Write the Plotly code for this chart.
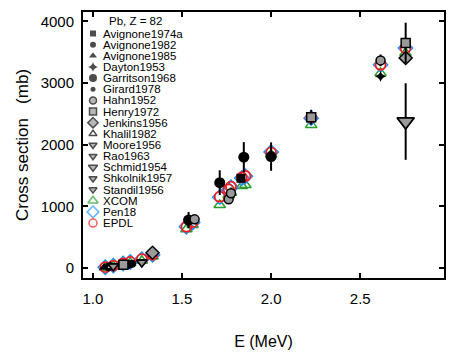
import plotly.graph_objects as go

# ---------------- data ----------------
E_theory = [1.07, 1.115, 1.17, 1.21, 1.275, 1.335, 1.525, 1.56, 1.712, 1.762,
            1.775, 1.836, 1.856, 2.0, 2.225, 2.614, 2.754]
xcom = [5, 30, 60, 85, 120, 190, 630, 700, 1023, 1180,
        1220, 1330, 1347, 1840, 2321, 3160, 3485]
pen18 = [15, 40, 75, 100, 145, 215, 670, 740, 1150, 1270,
         1310, 1460, 1490, 1880, 2430, 3295, 3566]
epdl = [15, 40, 75, 100, 145, 215, 670, 745, 1157, 1277,
        1320, 1470, 1493, 1872, 2440, 3295, 3566]

avignone1974a_E = [1.17, 1.831]
avignone1974a_s = [45, 1456]
avignone1982_E = [1.09, 1.2]
avignone1982_s = [20, 60]
avignone1985_E = [1.063]
avignone1985_s = [10]
dayton1953_E = [2.614]
dayton1953_s = [3106]
garritson1968_E = [1.537, 1.712, 1.847, 2.0]
garritson1968_s = [779, 1385, 1797, 1807]
garritson1968_err = [130, 200, 245, 230]
girard1978_E = [1.22, 1.33]
girard1978_s = [70, 230]
hahn1952_E = [1.571, 1.762, 1.775, 2.614]
hahn1952_s = [790, 1115, 1212, 3366]
hahn1952_err = [60, 60, 60, 95]
henry1972_E = [1.172, 2.225, 2.755]
henry1972_s = [55, 2446, 3647]
henry1972_err = [20, 120, 330]
jenkins1956_E = [1.335, 2.755]
jenkins1956_s = [250, 3404]
khalil1982_E = [1.1]
khalil1982_s = [25]
moore1956_E = [1.115]
moore1956_s = [35]
rao1963_E = [1.275]
rao1963_s = [100]
schmid1954_E = [2.755]
schmid1954_s = [2375]
schmid1954_err = [620]
shkolnik1957_E = [1.115]
shkolnik1957_s = [30]
standil1956_E = [1.275]
standil1956_s = [90]

x_ticks = [1.0, 1.5, 2.0, 2.5]
x_ticklabels = ["1.0", "1.5", "2.0", "2.5"]
y_ticks = [0, 1000, 2000, 3000, 4000]
y_ticklabels = ["0", "1000", "2000", "3000", "4000"]

legend_title = "Pb, Z = 82"
legend_names = ["Avignone1974a", "Avignone1982", "Avignone1985", "Dayton1953",
                "Garritson1968", "Girard1978", "Hahn1952", "Henry1972",
                "Jenkins1956", "Khalil1982", "Moore1956", "Rao1963",
                "Schmid1954", "Shkolnik1957", "Standil1956", "XCOM", "Pen18", "EPDL"]

# ---------------- styles ----------------
FONT = "Liberation Sans, Arial, Helvetica, sans-serif"
GRAY = "#9a9a9a"
GREEN = "#2a9d2a"
BLUE = "#1e90ff"
RED = "#ff1a1a"

# (symbol, size, fill, line colour, line width)
styles = {
    "Avignone1974a": ("square", 9, "black", "black", 0),
    "Avignone1982": ("circle", 9, "black", "black", 0),
    "Avignone1985": ("triangle-up", 9, "black", "black", 0),
    "Dayton1953": ("star-diamond", 8, "black", "black", 0),
    "Garritson1968": ("circle", 11, "black", "black", 0),
    "Girard1978": ("circle", 8, "black", "black", 0),
    "Hahn1952": ("circle", 9, GRAY, "black", 1.5),
    "Henry1972": ("square", 9, GRAY, "black", 1.5),
    "Jenkins1956": ("diamond", 10, GRAY, "black", 1.5),
    "Khalil1982": ("triangle-up", 8, "white", "black", 1.5),
    "Moore1956": ("triangle-down", 9, GRAY, "black", 1.5),
    "Rao1963": ("triangle-down", 9, GRAY, "black", 1.5),
    "Schmid1954": ("triangle-down", 15, GRAY, "black", 1.8),
    "Shkolnik1957": ("triangle-down", 9, GRAY, "black", 1.5),
    "Standil1956": ("triangle-down", 9, GRAY, "black", 1.5),
    "XCOM": ("triangle-up-open", 10, GREEN, GREEN, 1.5),
    "Pen18": ("diamond-open", 11, BLUE, BLUE, 1.5),
    "EPDL": ("circle-open", 10, RED, RED, 1.8),
}

fig = go.Figure()


def add(name, E, s, err=None):
    sym, size, fill, lc, lw = styles[name]
    kw = {}
    if err is not None:
        kw["error_y"] = dict(type="data", array=err, visible=True,
                             color="black", thickness=2, width=0)
    fig.add_trace(go.Scatter(
        x=E, y=s, mode="markers", name=name, showlegend=False,
        marker=dict(symbol=sym, size=size, color=fill,
                    line=dict(color=lc, width=lw)),
        **kw))


# theory under experiments
add("XCOM", E_theory, xcom)
add("Pen18", E_theory, pen18)
add("EPDL", E_theory, epdl)

add("Avignone1974a", avignone1974a_E, avignone1974a_s)
add("Avignone1982", avignone1982_E, avignone1982_s)
add("Avignone1985", avignone1985_E, avignone1985_s)
add("Girard1978", girard1978_E, girard1978_s)
add("Khalil1982", khalil1982_E, khalil1982_s)
add("Moore1956", moore1956_E, moore1956_s)
add("Rao1963", rao1963_E, rao1963_s)
add("Shkolnik1957", shkolnik1957_E, shkolnik1957_s)
add("Standil1956", standil1956_E, standil1956_s)
add("Garritson1968", garritson1968_E, garritson1968_s, garritson1968_err)
add("Schmid1954", schmid1954_E, schmid1954_s, schmid1954_err)
add("Jenkins1956", jenkins1956_E, jenkins1956_s)
add("Dayton1953", dayton1953_E, dayton1953_s)
add("Hahn1952", hahn1952_E, hahn1952_s, hahn1952_err)
add("Henry1972", henry1972_E, henry1972_s, henry1972_err)

# ---------------- hand-made compact legend ----------------
W, H = 463, 355
ML, MR, MT, MB = 83, 19, 12, 77
PW, PH = W - ML - MR, H - MT - MB


def fx(px):
    return (px - ML) / PW


def fy(py):
    return (H - MB - py) / PH


row0, drow = 33.5, 11.15
leg_y = [fy(row0 + i * drow) for i in range(len(legend_names))]
legend_sizes = {"Garritson1968": 8, "Schmid1954": 8, "Pen18": 9, "EPDL": 8,
                "XCOM": 9, "Jenkins1956": 8, "Hahn1952": 7, "Henry1972": 7,
                "Avignone1974a": 6, "Avignone1982": 6, "Avignone1985": 7,
                "Girard1978": 5, "Dayton1953": 7}
fig.add_trace(go.Scatter(
    x=[fx(93)] * len(legend_names), y=leg_y, mode="markers",
    xaxis="x2", yaxis="y2", showlegend=False, hoverinfo="skip",
    marker=dict(
        symbol=[styles[n][0] for n in legend_names],
        size=[legend_sizes.get(n, min(styles[n][1], 7)) for n in legend_names],
        color=[styles[n][2] for n in legend_names],
        line=dict(color=[styles[n][3] for n in legend_names],
                  width=[min(styles[n][4], 1.5) for n in legend_names]),
    )))

LEG_FS = 11.5
annotations = [dict(text=legend_title, x=fx(107), y=fy(21), xref="paper", yref="paper",
                    xanchor="left", yanchor="middle", showarrow=False,
                    font=dict(family=FONT, size=LEG_FS, color="black"))]
for n, yy in zip(legend_names, leg_y):
    annotations.append(dict(text=n, x=fx(101), y=yy, xref="paper", yref="paper",
                            xanchor="left", yanchor="middle", showarrow=False,
                            font=dict(family=FONT, size=LEG_FS, color="black")))

axis_common = dict(showline=True, linecolor="black", linewidth=2, mirror="ticks",
                   ticks="inside", ticklen=5, tickwidth=1.5, tickcolor="black",
                   showgrid=False, zeroline=False,
                   tickfont=dict(family=FONT, size=15, color="black"))

fig.update_layout(
    width=W, height=H,
    margin=dict(l=ML, r=MR, t=MT, b=MB, autoexpand=False),
    paper_bgcolor="white", plot_bgcolor="white",
    font=dict(family=FONT, color="black"),
    annotations=annotations,
    xaxis=dict(range=[0.945, 2.97], tickvals=x_ticks, ticktext=x_ticklabels,
               ticklabelstandoff=6,
               title=dict(text="E (MeV)", font=dict(family=FONT, size=16), standoff=30),
               **axis_common),
    yaxis=dict(range=[-160, 4150], tickvals=y_ticks, ticktext=y_ticklabels,
               ticklabelstandoff=4,
               title=dict(text="Cross section\u00a0\u00a0\u00a0(mb)",
                          font=dict(family=FONT, size=17), standoff=8),
               **axis_common),
    xaxis2=dict(overlaying="x", range=[0, 1], visible=False, fixedrange=True),
    yaxis2=dict(overlaying="y", range=[0, 1], visible=False, fixedrange=True),
)

fig.write_html("out.html", config={"displayModeBar": False},
               post_script="document.body.style.margin='0';")
